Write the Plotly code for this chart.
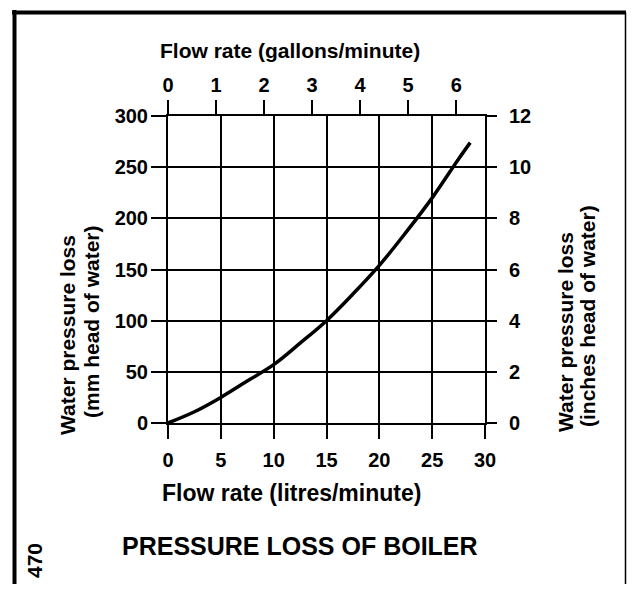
import plotly.graph_objects as go

# ---- data ----
flow_litres = [0, 2.5, 5, 7.5, 10, 12.5, 15, 17.5, 20, 22.5, 25, 27.5, 28.6]
loss_mm = [0, 11, 25, 41, 57, 78, 100, 126, 154, 186, 220, 258, 274]

litre_ticks = [0, 5, 10, 15, 20, 25, 30]
gallon_ticks = [0, 1, 2, 3, 4, 5, 6]
mm_ticks = [0, 50, 100, 150, 200, 250, 300]
inch_ticks = [0, 2, 4, 6, 8, 10, 12]

LITRES_PER_GALLON = 4.546

PAGE_OFF = 8  # browser body margin
W, H = 635 - 2 * PAGE_OFF, 592 - 2 * PAGE_OFF  # avoid scrollbars
X0, X1, Y0, Y1 = 168, 485, 116, 423  # plot area in page pixels


def px(x):
    return (x - X0) / (X1 - X0)


def py(y):
    return (Y1 - y) / (Y1 - Y0)


FONT = "Liberation Sans"
tickfont = dict(family=FONT, size=20, color="black", weight="bold")

fig = go.Figure()
fig.add_trace(go.Scatter(
    x=flow_litres, y=loss_mm, mode="lines",
    line=dict(color="black", width=3.5, shape="spline"),
    showlegend=False, hoverinfo="skip",
))
# invisible traces to activate secondary axes
fig.add_trace(go.Scatter(x=[0], y=[0], xaxis="x2", yaxis="y", mode="markers",
                         marker=dict(opacity=0), showlegend=False, hoverinfo="skip"))
fig.add_trace(go.Scatter(x=[0], y=[0], xaxis="x", yaxis="y2", mode="markers",
                         marker=dict(opacity=0), showlegend=False, hoverinfo="skip"))

axis_common = dict(
    showline=True, linecolor="black", linewidth=2,
    ticks="outside", tickcolor="black", tickwidth=2,
    tickfont=tickfont, zeroline=False, fixedrange=True,
)

fig.update_layout(
    width=W, height=H,
    margin=dict(l=X0 - PAGE_OFF, r=W - (X1 - PAGE_OFF), t=Y0 - PAGE_OFF,
                b=H - (Y1 - PAGE_OFF), pad=0),
    paper_bgcolor="white", plot_bgcolor="white",
    xaxis=dict(range=[0, 30], tickvals=litre_ticks, ticklen=14, ticklabelstandoff=4,
               showgrid=True, gridcolor="black", gridwidth=2, **axis_common),
    xaxis2=dict(range=[0, 30 / LITRES_PER_GALLON], tickvals=gallon_ticks,
                overlaying="x", side="top", ticklen=14, ticklabelstandoff=0,
                showgrid=False, **axis_common),
    yaxis=dict(range=[0, 300], tickvals=mm_ticks, ticklen=15, ticklabelstandoff=-1,
               showgrid=True, gridcolor="black", gridwidth=2, **axis_common),
    yaxis2=dict(range=[0, 12], tickvals=inch_ticks, overlaying="y", side="right",
                ticklen=10, ticklabelstandoff=8, showgrid=False, **axis_common),
)

ann_font = dict(family=FONT, size=21, color="black", weight="bold")
annotations = [
    dict(text="Flow rate (gallons/minute)", x=px(290), y=py(51)),
    dict(text="Flow rate (litres/minute)", x=px(291), y=py(493),
         font=dict(family=FONT, size=23, color="black", weight="bold")),
    dict(text="PRESSURE LOSS OF BOILER", x=px(300), y=py(546),
         font=dict(family=FONT, size=25, color="black", weight="bold")),
    dict(text="Water pressure loss", x=px(67), y=py(335), textangle=-90),
    dict(text="(mm head of water)", x=px(91), y=py(322), textangle=-90),
    dict(text="Water pressure loss", x=px(565), y=py(332), textangle=-90),
    dict(text="(inches head of water)", x=px(587), y=py(316), textangle=-90),
    dict(text="470", x=px(34), y=py(561), textangle=-90,
         font=dict(family=FONT, size=21, color="black", weight="bold")),
]
for a in annotations:
    a.setdefault("font", ann_font)
    fig.add_annotation(xref="paper", yref="paper", xanchor="center", yanchor="middle",
                       showarrow=False, **a)

# page frame
fig.add_shape(type="line", xref="paper", yref="paper",
              x0=px(14.5), x1=px(14.5), y0=py(10), y1=py(600),
              line=dict(color="black", width=4))
fig.add_shape(type="line", xref="paper", yref="paper",
              x0=px(12), x1=px(626), y0=py(12.5), y1=py(12.5),
              line=dict(color="black", width=4))
fig.add_shape(type="line", xref="paper", yref="paper",
              x0=px(625.5), x1=px(625.5), y0=py(12.5), y1=py(600),
              line=dict(color="black", width=1.5))

fig.write_html("out.html")
